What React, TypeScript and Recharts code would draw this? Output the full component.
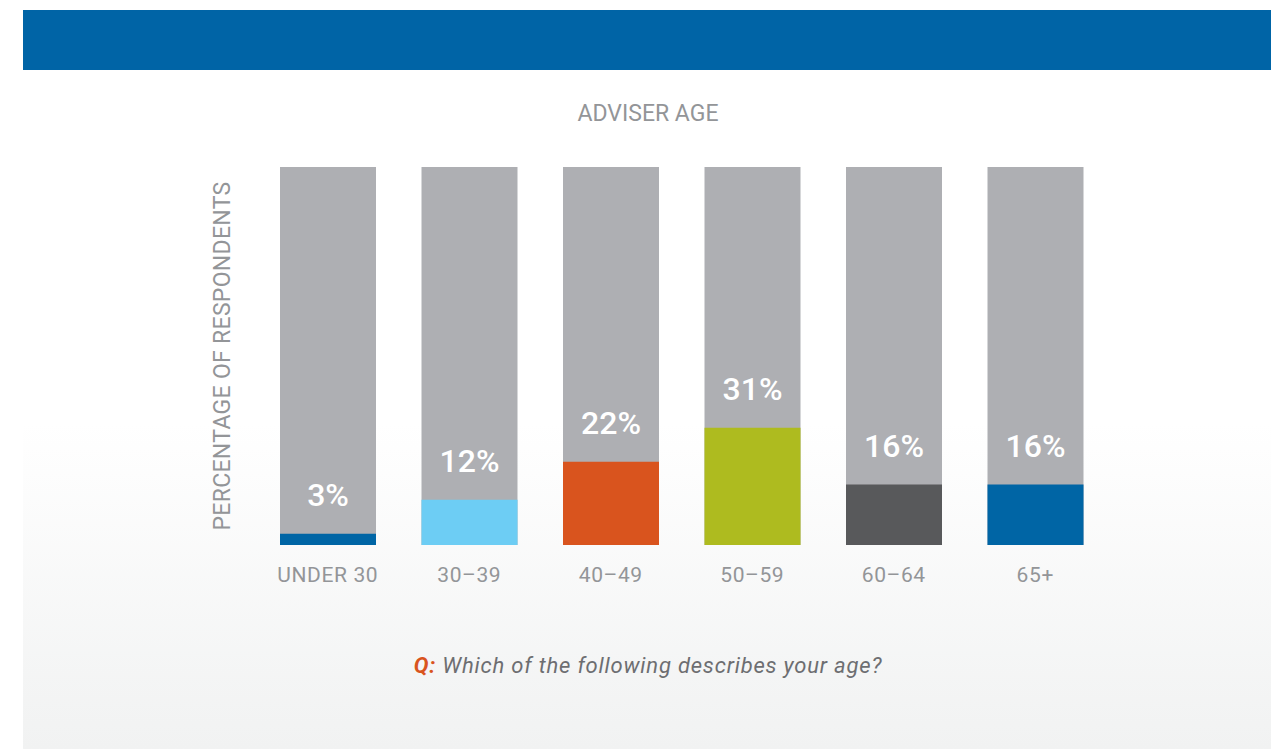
import { BarChart, Bar, XAxis, YAxis, Cell, LabelList } from 'recharts';

const categories = ['UNDER 30', '30–39', '40–49', '50–59', '60–64', '65+'];
const values = [3, 12, 22, 31, 16, 16];
const barColors = ['#0065a5', '#6dcdf4', '#d9541e', '#aebb1f', '#58595b', '#0065a5'];

const data = categories.map((name, i) => ({ name, value: values[i] }));

const FONT = 'Roboto, "Open Sans", sans-serif';
const GRAY_TEXT = '#939598';

export default function App() {
  return (
    <div style={{ position: 'absolute', left: 0, top: 0, width: 1287, height: 749, background: '#fff', fontFamily: FONT }}>
      {/* header bar */}
      <div style={{ position: 'absolute', left: 23, top: 10, width: 1248, height: 60, background: '#0064a6' }} />
      {/* panel with soft gradient */}
      <div
        style={{
          position: 'absolute',
          left: 23,
          top: 70,
          width: 1248,
          height: 679,
          background: 'linear-gradient(to bottom, #ffffff 0%, #ffffff 52%, #f1f2f2 100%)',
        }}
      />
      <div
        style={{
          position: 'absolute',
          left: 0,
          width: 1296,
          top: 100,
          textAlign: 'center',
          fontSize: 23,
          color: GRAY_TEXT,
          lineHeight: '28px',
        }}
      >
        ADVISER AGE
      </div>

      <div style={{ position: 'absolute', left: 0, top: 0 }}>
        <BarChart
          width={1287}
          height={749}
          data={data}
          margin={{ top: 167, left: 192, right: 181, bottom: 174 }}
        >
          <YAxis
            domain={[0, 100]}
            width={65}
            tick={false}
            axisLine={false}
            tickLine={false}
            label={{
              value: 'PERCENTAGE OF RESPONDENTS',
              angle: -90,
              position: 'center',
              fill: GRAY_TEXT,
              fontSize: 23,
              letterSpacing: 0.3,
              fontFamily: FONT,
              dx: -3,
            }}
          />
          <XAxis
            dataKey="name"
            height={30}
            axisLine={false}
            tickLine={false}
            tickMargin={16}
            tick={{ fill: GRAY_TEXT, fontSize: 21, fontFamily: FONT, letterSpacing: 0.6 }}
            interval={0}
          />
          <Bar dataKey="value" barSize={96} background={{ fill: '#aeafb3' }} isAnimationActive={false}>
            {data.map((entry, i) => (
              <Cell key={entry.name} fill={barColors[i]} />
            ))}
            <LabelList
              dataKey="value"
              position="top"
              offset={28}
              formatter={(v: any) => `${v}%`}
              fill="#ffffff"
              fontSize={32}
              fontWeight={500}
              fontFamily={FONT}
            />
          </Bar>
        </BarChart>
      </div>

      <div
        style={{
          position: 'absolute',
          left: 0,
          width: 1296,
          top: 652,
          textAlign: 'center',
          fontSize: 22,
          letterSpacing: 0.8,
          fontStyle: 'italic',
          color: '#6d6e71',
          lineHeight: '28px',
        }}
      >
        <span style={{ color: '#d9541e', fontWeight: 700 }}>Q:</span> Which of the following describes your age?
      </div>
    </div>
  );
}
